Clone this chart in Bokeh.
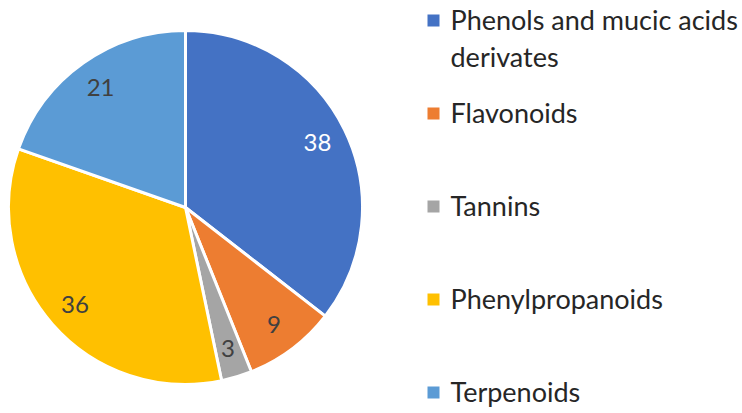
import math
from bokeh.plotting import figure
from bokeh.models import Range1d, ColumnDataSource
from bokeh.core.properties import value
from bokeh.embed import file_html
from bokeh.resources import INLINE

categories = ["Phenols and mucic acids\nderivates", "Flavonoids", "Tannins", "Phenylpropanoids", "Terpenoids"]
values = [38, 9, 3, 36, 21]
colors = ["#4472C4", "#ED7D31", "#A5A5A5", "#FFC000", "#5B9BD5"]
label_colors = ["#FFFFFF", "#404040", "#404040", "#404040", "#404040"]

W, H = 742, 413
p = figure(width=W, height=H, output_backend="svg", toolbar_location=None,
           x_range=Range1d(0, W), y_range=Range1d(0, H),
           min_border=0, outline_line_color=None)
p.axis.visible = False
p.grid.visible = False
p.background_fill_color = "white"
p.border_fill_color = "white"

cx, cy, R = 185, 206, 177
total = sum(values)
starts, ends, lx, ly, txt = [], [], [], [], []
cum = 0
for v in values:
    a0 = math.pi / 2 - 2 * math.pi * cum / total
    cum += v
    a1 = math.pi / 2 - 2 * math.pi * cum / total
    starts.append(a0)
    ends.append(a1)
    mid = (a0 + a1) / 2
    lx.append(cx + 0.83 * R * math.cos(mid))
    ly.append(cy + 0.83 * R * math.sin(mid))
    txt.append(str(v))

src = ColumnDataSource(dict(start=starts, end=ends, color=colors, lx=lx, ly=ly,
                            txt=txt, lc=label_colors))
p.wedge(x=cx, y=cy, radius=R, start_angle="start", end_angle="end", direction="clock",
        fill_color="color", line_color="white", line_width=3, source=src)
p.text(x="lx", y="ly", text="txt", text_color="lc", text_font=value("Lato"),
       text_font_size="24px", text_align="center", text_baseline="middle", source=src)

# legend
row_y = [H - (20 + i * 93.0) for i in range(len(categories))]
fs = 27
lh = 1.12
leg = ColumnDataSource(dict(y=row_y, ty=[y + 17.5 for y in row_y],
                            label=categories, color=colors))
p.scatter(x=433, y="y", marker="square", size=12, fill_color="color", line_color=None, source=leg)
p.text(x=450, y="ty", text="label", text_color="#262626", text_font=value("Lato"),
       text_font_size=f"{fs}px", text_align="left", text_baseline="top",
       text_line_height=lh, source=leg)

open("out.html", "w").write(file_html(p, INLINE))
